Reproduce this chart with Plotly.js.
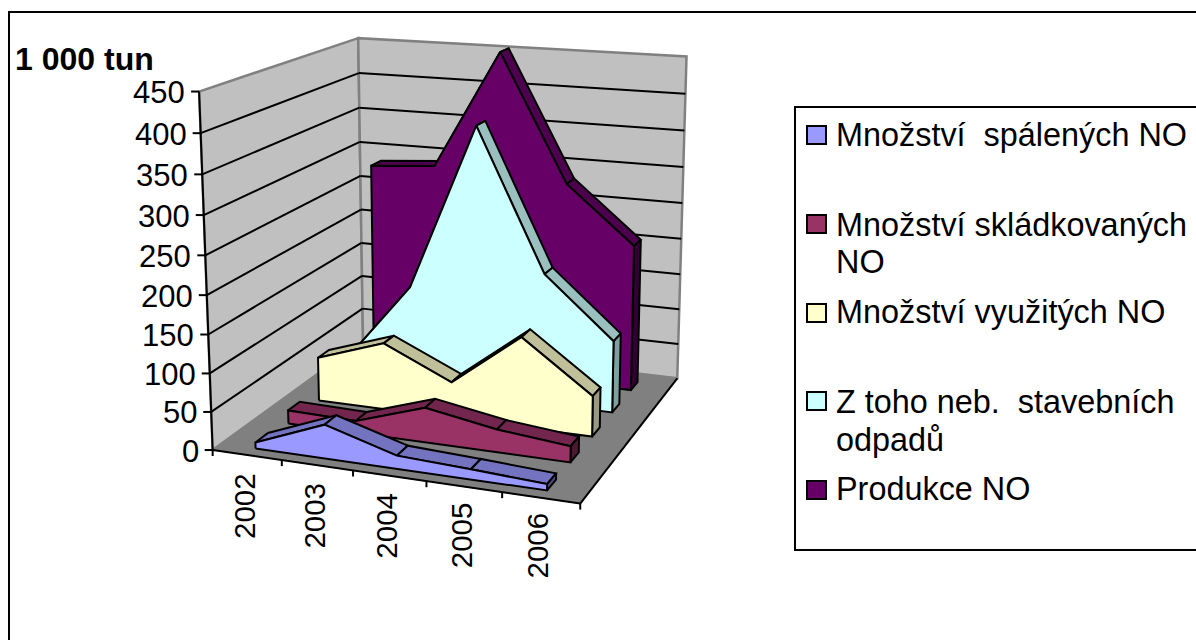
<!DOCTYPE html>
<html><head><meta charset="utf-8">
<script src="https://cdn.plot.ly/plotly-3.0.1.min.js"></script>
<style>html,body{margin:0;padding:0;background:#fff}#c{width:1196px;height:640px}</style>
</head><body><div id="c"></div>
<script>
const years = ['2002','2003','2004','2005','2006'];
const valueTicks = [0,50,100,150,200,250,300,350,400,450];
const burned = [8,44,17,13,8];
const landfilled = [18,16,46,30,21];
const used = [60,91,49,121,54];
const construction = [30,142,370,179,98];
const production = [283,290,453,280,203];
const seriesBackToFront = [
 {name:'Produkce', vals:production, z:0.9, front:'#660066', top:'#4d004d', cap:'#330033'},
 {name:'Stavebni', vals:construction, z:0.7, front:'#CCFFFF', top:'#99BFBF', cap:'#80A0A0'},
 {name:'Vyuzite', vals:used, z:0.5, front:'#FFFFCC', top:'#BFBF99', cap:'#9A9A80'},
 {name:'Skladkovane', vals:landfilled, z:0.3, front:'#993366', top:'#73264D', cap:'#4D1933'},
 {name:'Spalene', vals:burned, z:0.1, front:'#9999FF', top:'#7373BF', cap:'#4D4D80'}
];
const legendLines = [
 ['Množství  spálených NO',135],['Množství skládkovaných',225],['NO',262],['Množství využitých NO',312],
 ['Z toho neb.  stavebních',402],['odpadů',440],['Produkce NO',489]];
const legendSwatches = [['#9999FF',126,144],['#993366',215,233],['#FFFFCC',304,322],['#CCFFFF',392,410],['#660066',481,499]];
const AXIS_MAX = 450, FRONT_OFFSET = 0.05, DEPTH = 0.075;

// perspective of the box fitted to its corners: [x,z,y] -> pixel
const corners = [[0,0,0,212,452],[1,0,0,580,502],[0,1,0,364,339],[1,1,0,677,380],[0,0,1,200,91],[0,1,1,357,39],[1,1,1,687,56]];
function fit(){
  const A=[],b=[];
  corners.forEach(([x,z,y,u,v])=>{
    A.push([x,z,y,1,0,0,0,0,-u*x,-u*z,-u*y]);b.push(u);
    A.push([0,0,0,0,x,z,y,1,-v*x,-v*z,-v*y]);b.push(v);
  });
  const n=11,N=[];
  for(let i=0;i<n;i++){N[i]=[];for(let j=0;j<=n;j++){let s=0;for(let k=0;k<A.length;k++)s+=A[k][i]*(j<n?A[k][j]:b[k]);N[i][j]=s;}}
  for(let i=0;i<n;i++){let p=i;for(let r=i+1;r<n;r++)if(Math.abs(N[r][i])>Math.abs(N[p][i]))p=r;[N[i],N[p]]=[N[p],N[i]];
    for(let r=0;r<n;r++){if(r===i)continue;const f=N[r][i]/N[i][i];for(let c=i;c<=n;c++)N[r][c]-=f*N[i][c];}}
  return N.map((r,i)=>r[n]/r[i]);
}
const M=fit();
function P(x,z,y){const w=M[8]*x+M[9]*z+M[10]*y+1;return [(M[0]*x+M[1]*z+M[2]*y+M[3])/w,(M[4]*x+M[5]*z+M[6]*y+M[7])/w];}
const catX=i=>(i+0.5)/years.length;

const traces=[];
function poly(pts,fill,line,w){
  const c=pts.concat([pts[0]]);
  traces.push({type:'scatter',mode:'lines',x:c.map(p=>p[0]),y:c.map(p=>p[1]),fill:'toself',fillcolor:fill,
    line:{color:line,width:w,simplify:false},hoverinfo:'skip',showlegend:false});
}
function seg(a,b,color,w){
  traces.push({type:'scatter',mode:'lines',x:[a[0],b[0]],y:[a[1],b[1]],line:{color:color,width:w},hoverinfo:'skip',showlegend:false});
}
// walls and floor
poly([P(0,0,0),P(0,1,0),P(1,1,0),P(1,0,0)],'#808080','#808080',1);
poly([P(0,0,0),P(0,1,0),P(0,1,1),P(0,0,1)],'#C0C0C0','#808080',2.5);
poly([P(0,1,0),P(1,1,0),P(1,1,1),P(0,1,1)],'#C0C0C0','#808080',2.5);
valueTicks.slice(1,-1).forEach(t=>{const y=t/AXIS_MAX;seg(P(0,0,y),P(0,1,y),'#000',2);seg(P(0,1,y),P(1,1,y),'#000',2);});
seg(P(0,0,0),P(0,0,1),'#000',2);
seg(P(0,0,0),P(1,0,0),'#000',2);
seg(P(1,0,0),P(1,1,0),'#000',2);
valueTicks.forEach(t=>{const p=P(0,0,t/AXIS_MAX);seg(p,[p[0]-8,p[1]],'#000',2);});
for(let i=0;i<=years.length;i++){const p=P(i/years.length,0,0);seg(p,[p[0],p[1]+6],'#000',2);}
// areas
seriesBackToFront.forEach(s=>{
  const zf=s.z-FRONT_OFFSET, zb=zf+DEPTH, n=s.vals.length;
  for(let i=0;i<n-1;i++){
    const a=s.vals[i]/AXIS_MAX,b=s.vals[i+1]/AXIS_MAX,x0=catX(i),x1=catX(i+1);
    poly([P(x0,zf,a),P(x1,zf,b),P(x1,zb,b),P(x0,zb,a)],s.top,'#000',2);
  }
  const xe=catX(n-1),ve=s.vals[n-1]/AXIS_MAX;
  poly([P(xe,zf,0),P(xe,zb,0),P(xe,zb,ve),P(xe,zf,ve)],s.cap,'#000',2);
  const pts=[P(catX(0),zf,0)];
  s.vals.forEach((v,i)=>pts.push(P(catX(i),zf,v/AXIS_MAX)));
  pts.push(P(xe,zf,0));
  poly(pts,s.front,'#000',2);
});
const FONT='"Liberation Sans",Arial,sans-serif';
const ann=[];
valueTicks.forEach(t=>{const p=P(0,0,t/AXIS_MAX);
  ann.push({x:p[0]-14,y:p[1]+1,text:String(t),xanchor:'right',yanchor:'middle',showarrow:false,font:{family:FONT,size:31,color:'#000'}});});
years.forEach((l,i)=>{const p=P(catX(i),0,0);
  ann.push({x:p[0]-3,y:p[1]+18-i*0.8,text:l,textangle:-90,xanchor:'center',yanchor:'top',showarrow:false,font:{family:FONT,size:29.5,color:'#000'}});});
ann.push({x:15,y:59,text:'<b>1 000 tun</b>',xanchor:'left',yanchor:'middle',showarrow:false,font:{family:FONT,size:32,color:'#000'}});
legendLines.forEach(([t,y])=>ann.push({x:836,y:y,text:t,xanchor:'left',yanchor:'middle',showarrow:false,font:{family:FONT,size:32.4,color:'#000'}}));
ann.forEach(a=>{a.xref='x';a.yref='y';a.borderpad=0;a.borderwidth=0;});
const shapes=[
 {type:'rect',xref:'x',yref:'y',x0:9,y0:12,x1:1300,y1:800,line:{color:'#000',width:2}},
 {type:'rect',xref:'x',yref:'y',x0:795,y0:107,x1:1300,y1:550,line:{color:'#000',width:2}}
];
legendSwatches.forEach(([c,y0,y1])=>shapes.push({type:'rect',xref:'x',yref:'y',x0:807,x1:826,y0:y0,y1:y1,fillcolor:c,line:{color:'#000',width:2}}));
const ax={visible:false,fixedrange:true,showgrid:false,zeroline:false};
Plotly.newPlot('c',traces,{width:1196,height:640,margin:{l:0,r:0,t:0,b:0},paper_bgcolor:'#fff',plot_bgcolor:'#fff',showlegend:false,
  xaxis:Object.assign({range:[0,1196]},ax),yaxis:Object.assign({range:[640,0]},ax),annotations:ann,shapes:shapes},{staticPlot:true,displayModeBar:false});
</script></body></html>
